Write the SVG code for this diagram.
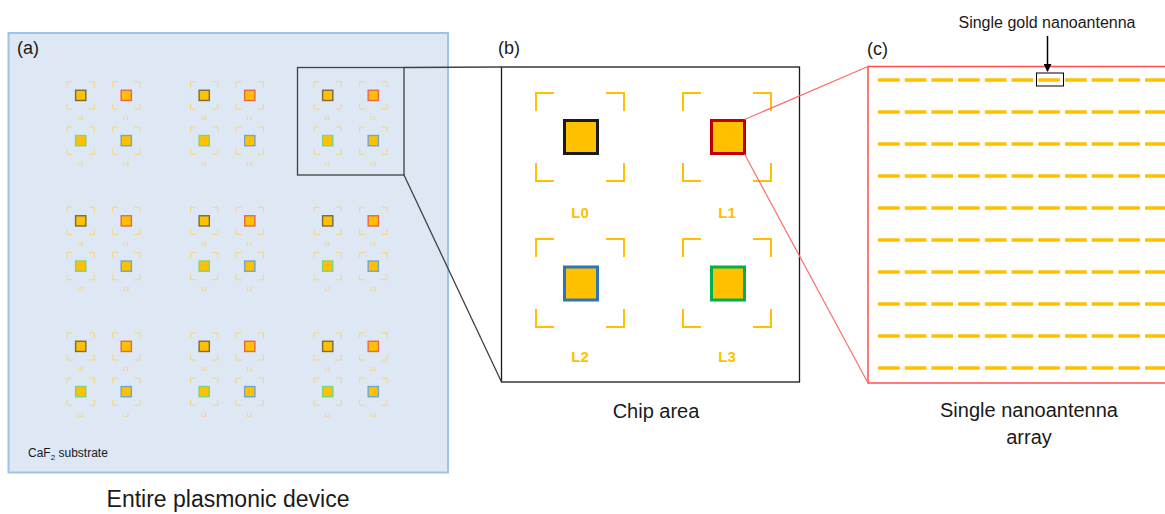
<svg xmlns="http://www.w3.org/2000/svg" xmlns:xlink="http://www.w3.org/1999/xlink" width="1165" height="514" viewBox="0 0 1165 514">
<style>
.t{font-family:"Liberation Sans",Arial,sans-serif;fill:#1a1a1a}
.br{fill:none;stroke:#ffc000;stroke-width:2}
.brs{fill:none;stroke:#f3d47c;stroke-width:3}
.sq{fill:#ffc000;stroke-width:3}
.sqs{fill:#ffc000;stroke-width:4.5}
.lb{font-family:"Liberation Sans",Arial,sans-serif;font-weight:bold;font-size:15px;fill:#ffc000;text-anchor:middle}
.lbs{font-family:"Liberation Sans",Arial,sans-serif;font-weight:bold;font-size:15px;fill:#f3d47c;text-anchor:middle}
.blk{stroke:#404040;stroke-width:1.3;fill:none}
.red{stroke:#ff6b6b;stroke-width:1.2;fill:none}
.ant{stroke:#ffc000;stroke-width:3.3;stroke-dasharray:21.7 5;fill:none}
</style>
<defs>
<path id="brk" d="M-44,-26V-44H-26M26,-44H44V-26M44,26V44H26M-26,44H-44V26"/>
<g id="chipA">
<use xlink:href="#brk" class="brs" transform="translate(-73.5,-73)"/>
<use xlink:href="#brk" class="brs" transform="translate(73.5,-73)"/>
<use xlink:href="#brk" class="brs" transform="translate(-73.5,73)"/>
<use xlink:href="#brk" class="brs" transform="translate(73.5,73)"/>
<rect class="sqs" x="-90" y="-89.5" width="33" height="33" stroke="#7a6a3c"/>
<rect class="sqs" x="57" y="-89.5" width="33" height="33" stroke="#e8664e"/>
<rect class="sqs" x="-90" y="56.5" width="33" height="33" stroke="#7fd47f"/>
<rect class="sqs" x="57" y="56.5" width="33" height="33" stroke="#70a6c8"/>
<text class="lbs" x="-73.5" y="8">L0</text>
<text class="lbs" x="73.5" y="8">L1</text>
<text class="lbs" x="-73.5" y="154">L2</text>
<text class="lbs" x="73.5" y="154">L3</text>
</g>
<marker id="arr" markerWidth="8" markerHeight="8" refX="7" refY="4" orient="auto" markerUnits="userSpaceOnUse">
<path d="M0,0L8,4L0,8z" fill="#000"/>
</marker>
</defs>

<g id="panel-a">
<rect x="8.5" y="33" width="439.5" height="439.5" fill="#dde8f4" stroke="#9dc3e6" stroke-width="2"/>
<text class="t" x="17" y="54" font-size="18">(a)</text>
<text class="t" x="28" y="457" font-size="12">CaF<tspan font-size="8" dy="3">2</tspan><tspan dy="-3"> substrate</tspan></text>
<text class="t" x="228" y="507" font-size="23" text-anchor="middle">Entire plasmonic device</text>
</g>
<g id="chip-a-11"><use xlink:href="#chipA" transform="translate(103.5,118) scale(0.31)"/></g>
<g id="chip-a-12"><use xlink:href="#chipA" transform="translate(227,118) scale(0.31)"/></g>
<g id="chip-a-13"><use xlink:href="#chipA" transform="translate(350.5,118) scale(0.31)"/></g>
<g id="chip-a-21"><use xlink:href="#chipA" transform="translate(103.5,243.5) scale(0.31)"/></g>
<g id="chip-a-22"><use xlink:href="#chipA" transform="translate(227,243.5) scale(0.31)"/></g>
<g id="chip-a-23"><use xlink:href="#chipA" transform="translate(350.5,243.5) scale(0.31)"/></g>
<g id="chip-a-31"><use xlink:href="#chipA" transform="translate(103.5,369) scale(0.31)"/></g>
<g id="chip-a-32"><use xlink:href="#chipA" transform="translate(227,369) scale(0.31)"/></g>
<g id="chip-a-33"><use xlink:href="#chipA" transform="translate(350.5,369) scale(0.31)"/></g>
<g id="zoom-box-a"><rect x="297.5" y="67.5" width="106.5" height="107.5" class="blk" stroke-width="1.6"/></g>

<g id="panel-b">
<rect x="501.5" y="67" width="298" height="315" fill="#fff" stroke="#1a1a1a" stroke-width="1.3"/>
<text class="t" x="498" y="54" font-size="18">(b)</text>
<text class="t" x="656" y="418" font-size="20" text-anchor="middle">Chip area</text>
</g>
<g id="chip-L0">
<use xlink:href="#brk" class="br" transform="translate(580,137)"/>
<rect class="sq" x="564.5" y="120.5" width="33" height="33" stroke="#1a1a1a"/>
<text class="lb" x="580" y="218">L0</text>
</g>
<g id="chip-L1">
<use xlink:href="#brk" class="br" transform="translate(727,137)"/>
<rect class="sq" x="711.5" y="120.5" width="33" height="33" stroke="#c00000"/>
<text class="lb" x="727" y="218">L1</text>
</g>
<g id="chip-L2">
<use xlink:href="#brk" class="br" transform="translate(580,283)"/>
<rect class="sq" x="564.5" y="267" width="33" height="33" stroke="#2e75b6"/>
<text class="lb" x="580" y="362">L2</text>
</g>
<g id="chip-L3">
<use xlink:href="#brk" class="br" transform="translate(727,283)"/>
<rect class="sq" x="711.5" y="267" width="33" height="33" stroke="#00b050"/>
<text class="lb" x="727" y="362">L3</text>
</g>

<g id="panel-c">
<rect x="868" y="66.5" width="310" height="316.5" fill="#fff" stroke="#ff4d4d" stroke-width="1.5"/>
<text class="t" x="867" y="55" font-size="18">(c)</text>
<g id="antennas">
<path class="ant" d="M878,80H1170M878,112H1170M878,144H1170M878,176H1170M878,208H1170M878,240H1170M878,272H1170M878,304H1170M878,336H1170M878,368H1170"/>
</g>
<text class="t" x="1029" y="417" font-size="20" text-anchor="middle">Single nanoantenna</text>
<text class="t" x="1029" y="444" font-size="20" text-anchor="middle">array</text>
</g>
<g id="single-antenna">
<rect x="1036.5" y="73" width="27" height="13" fill="none" stroke="#000" stroke-width="1"/>
<text class="t" x="1047" y="28" font-size="16" text-anchor="middle">Single gold nanoantenna</text>
</g>

<g id="connectors">
<line class="blk" x1="404" y1="67.5" x2="501.5" y2="67"/>
<line class="blk" x1="404" y1="175" x2="501.5" y2="382"/>
<line class="red" x1="744.5" y1="119.5" x2="868" y2="66.5"/>
<line class="red" x1="744.5" y1="154" x2="868" y2="383"/>
<line x1="1047.5" y1="36" x2="1047.5" y2="71" stroke="#000" stroke-width="1.5" marker-end="url(#arr)"/>
</g>
</svg>
